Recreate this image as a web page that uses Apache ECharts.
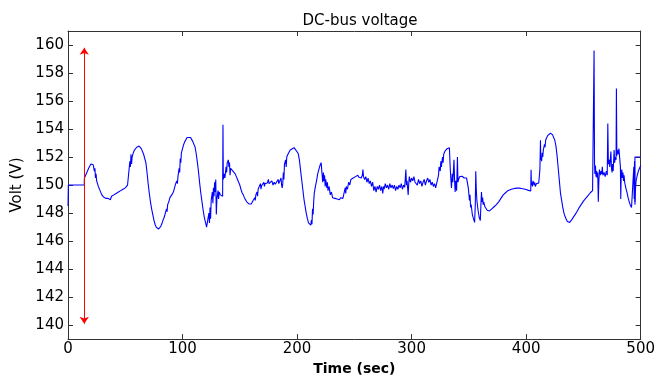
<!DOCTYPE html>
<html>
<head>
<meta charset="utf-8">
<script src="https://cdn.jsdelivr.net/npm/echarts@6/dist/echarts.min.js"></script>
<style>
  html, body { margin: 0; padding: 0; background: #fff; }
  #chart { width: 658px; height: 381px; }
</style>
</head>
<body>
<div id="chart"></div>
<script>
// time (sec) and DC-bus voltage (V)
const timeSec = [
  0, 0.3, 14.2, 14.3, 16, 18, 20, 21, 22, 22.5, 23, 23.5, 24, 24.5, 25, 26, 26.5, 27, 28, 29, 29.5, 30, 31, 32, 33, 34, 35, 36, 37, 38, 39, 40,
  41, 42, 43, 44, 45, 46, 47, 48, 49, 50, 51, 52, 53, 53.5, 54, 54.5, 55, 55.5, 56, 57, 58, 60, 62, 64, 66, 68, 69, 70, 71, 72, 73, 74, 75,
  76, 77, 78, 79, 80, 81, 82, 83, 84, 84.5, 85, 86, 86.5, 87, 88, 89, 90, 91, 92, 93, 94, 95, 95.5, 96, 97, 97.5, 98, 98.5, 99, 100, 101,
  102, 104, 105.5, 107, 109, 111, 112, 113, 114, 115, 116, 117, 118, 119, 120, 121, 122, 122.5, 123, 123.5, 124, 124.5, 125, 126, 126.5,
  127, 127.5, 128, 128.5, 129, 129.5, 130, 131, 131.5, 132, 133, 134, 135, 135.3, 135.6, 136.5, 137, 138, 138.5, 139, 140, 140.5, 141,
  141.5, 142, 143, 144, 145, 146, 147, 148, 149, 150, 151, 152, 153, 154, 155, 156, 157, 158, 159, 160, 161, 162, 163, 163.5, 164, 165,
  165.5, 166, 167, 168, 168.5, 169, 170, 171, 171.5, 172, 173, 174, 175, 175.5, 176, 177, 178, 179, 180, 181, 182, 183, 183.5, 184, 185,
  186, 186.5, 187, 187.5, 188, 188.5, 189, 190, 190.5, 191, 192, 193, 194, 195, 197.4, 199, 201, 202, 203, 204, 205, 206, 207, 208, 209,
  210, 211, 212, 212.5, 213, 213.5, 214, 214.5, 215, 216, 217, 218, 219, 220, 221, 222, 222.4, 223, 223.5, 224, 224.5, 225, 226, 226.5,
  227, 228, 229, 230, 231, 232, 233, 234, 235, 236, 237, 238, 239, 240, 241, 242, 242.5, 243, 244, 245, 246, 247, 248, 249, 250, 251,
  252, 253, 254, 255, 256, 257, 257.5, 258, 259, 260, 261, 262, 263, 264, 265, 266, 267, 268, 269, 270, 271, 272, 273, 274, 274.8, 275.5,
  276, 277, 278, 279, 280, 281, 282, 283, 284, 285, 286, 287, 288, 289, 290, 291, 292, 293, 294, 295, 295.5, 296, 297, 297.5, 298, 299,
  300, 301, 302, 303, 304, 305, 306, 307, 308, 309, 310, 311, 312, 313, 314, 315, 316, 317, 318, 319, 320, 321, 322, 322.6, 323.5, 324,
  325, 325.5, 326, 327, 327.5, 328, 329, 330, 331, 332, 333, 333.6, 334.2, 334.8, 335.5, 336, 337, 337.5, 338, 338.6, 339.3, 340, 340.5,
  341, 342, 343, 344, 345, 346, 347, 348, 348.7, 349.5, 350.5, 351, 351.5, 352, 353, 354, 355, 355.6, 356, 356.5, 357, 357.5, 358, 359,
  360, 360.5, 361, 361.5, 362, 362.5, 363, 364, 365, 366, 367, 368, 369, 370, 372, 374, 376, 378, 380, 382, 384, 386, 388, 390, 392, 394,
  396, 398, 400, 402, 404, 404.3, 404.6, 405, 405.5, 406, 407, 407.5, 408, 409, 410, 411, 412, 412.5, 412.8, 413, 413.5, 414, 414.5, 415,
  416, 416.5, 417, 418, 419, 420, 421.2, 422, 423, 424, 425, 426, 427, 428, 429, 430, 431, 432, 433, 434, 435, 436, 437, 438, 439, 440,
  442, 444, 446, 448, 450, 452, 454, 456, 458, 458.8, 459.3, 459.7, 460, 460.5, 461, 461.5, 462, 462.5, 463, 463.5, 464, 465, 465.5, 466,
  466.5, 467, 468, 469, 469.6, 470, 470.8, 471.3, 471.8, 472.5, 473, 474, 474.5, 475, 475.5, 476, 476.8, 477.3, 477.8, 478.5, 478.8,
  479.2, 479.7, 480.5, 481, 481.7, 482.3, 482.6, 483, 483.5, 484, 484.5, 485, 485.5, 486, 487, 488, 489, 490, 491, 492, 493, 493.6, 494,
  494.3, 494.6, 495, 495.5, 496, 497, 498, 499, 500
];
const voltage = [
  148.5, 150.0, 150.0, 150.5, 150.8, 151.2, 151.5, 151.6, 151.45, 151.5, 151.0, 151.2, 150.5, 150.8, 150.3, 150.2, 149.9, 150.0, 149.6, 149.5, 149.3, 149.4, 149.15, 149.2, 149.05, 149.15, 149.05, 149.1, 148.95, 149.2, 149.1, 149.3,
  149.2, 149.4, 149.35, 149.5, 149.45, 149.6, 149.55, 149.7, 149.65, 149.8, 149.7, 150.0, 149.9, 150.0, 151.7, 151.3, 152.2, 151.5, 152.0, 152.3, 152.5, 152.7, 152.78, 152.6, 152.2, 151.6, 150.9, 150.1, 149.4, 148.8, 148.3, 147.9, 147.5,
  147.2, 147.0, 146.92, 146.86, 146.9, 147.05, 147.25, 147.5, 147.7, 147.6, 148.0, 148.3, 148.1, 148.6, 148.8, 149.1, 149.0, 149.35, 149.5, 149.8, 150.1, 150.3, 150.1, 150.6, 151.2, 150.9, 151.9, 151.6, 152.3, 152.6, 152.9,
  153.1, 153.4, 153.48, 153.4, 153.1, 152.7, 152.2, 151.6, 150.9, 150.1, 149.4, 148.8, 148.2, 147.7, 147.35, 147.0, 146.9, 146.86, 148.0, 147.3, 148.4, 147.6, 148.9, 149.5, 148.7,
  149.8, 149.2, 150.2, 149.5, 150.4, 147.9, 149.0, 149.6, 149.0, 149.5, 149.3, 149.2, 149.2, 154.3, 150.4, 150.8, 150.5, 151.3, 150.9, 151.6, 151.8, 151.3, 151.6,
  150.7, 151.2, 151.3, 151.0, 151.1, 150.8, 150.6, 150.4, 150.2, 150.0, 149.7, 149.45, 149.3, 149.1, 148.95, 148.8, 148.75, 148.65, 148.7, 148.65, 148.8, 148.95, 149.1, 148.9, 149.3, 149.5,
  149.2, 149.7, 149.8, 150.1, 149.7, 149.95, 149.9, 150.2, 149.9, 150.1, 150.0, 150.15, 150.4, 150.1, 150.2, 150.1, 150.3, 150.0, 150.2, 150.05, 150.2, 150.1, 150.4, 150.1, 150.2,
  150.5, 150.0, 149.8, 150.1, 150.9, 150.4, 151.5, 151.8, 151.3, 152.0, 152.2, 152.3, 152.5, 152.6, 152.67, 152.55, 152.25, 151.8, 151.1, 150.4, 149.7, 149.0, 148.5, 148.0, 147.6,
  147.3, 147.2, 147.14, 147.5, 147.2, 148.3, 147.9, 148.8, 149.4, 149.9, 150.3, 150.8, 151.1, 151.4, 151.6, 151.67, 150.2, 150.9, 150.3, 150.7, 149.9, 150.4, 149.8, 150.2,
  149.6, 149.9, 149.3, 149.5, 149.1, 149.2, 149.05, 149.15, 149.0, 149.1, 148.95, 149.1, 149.0, 149.05, 148.95, 149.8, 149.4, 149.9, 149.7, 150.2, 150.0, 150.4, 150.3, 150.5, 150.45, 150.6,
  150.5, 150.7, 150.55, 150.65, 150.5, 150.7, 151.1, 150.6, 150.4, 150.6, 150.2, 150.5, 150.1, 150.3, 149.9, 150.2, 149.6, 149.9, 149.5, 149.9, 149.7, 150.0, 149.6, 149.9, 149.4, 149.9,
  149.7, 150.1, 149.8, 150.0, 149.7, 150.1, 149.8, 150.0, 149.75, 150.0, 149.6, 149.9, 149.7, 150.0, 149.8, 150.1, 149.7, 150.0, 149.85, 151.1, 150.0, 150.3, 149.3, 150.1, 150.6, 150.2,
  150.5, 150.3, 150.6, 150.2, 150.3, 150.0, 150.4, 150.1, 150.3, 149.9, 150.2, 150.4, 150.0, 150.3, 150.5, 150.2, 150.4, 150.0, 150.2, 149.9, 150.1, 149.8, 149.9, 149.75, 150.7, 151.3,
  151.0, 151.7, 151.3, 152.0, 151.6, 152.2, 152.4, 152.5, 152.6, 152.67, 152.67, 151.4, 150.5, 149.8, 150.8, 150.2, 151.8, 150.4, 149.5, 150.3, 149.6, 152.0, 150.2,
  150.4, 150.6, 150.5, 150.63, 150.6, 150.5, 150.55, 150.5, 150.45, 149.8, 148.9, 149.3, 148.4, 148.6, 147.9, 147.6, 147.33, 148.6, 150.98, 149.6, 148.9, 148.8, 148.2, 147.7,
  147.47, 148.6, 149.5, 148.8, 149.1, 148.6, 148.8, 148.45, 148.35, 148.2, 148.12, 148.15, 148.2, 148.3, 148.45, 148.6, 148.8, 149.05, 149.3, 149.45, 149.6, 149.67, 149.72, 149.76, 149.78, 149.78,
  149.75, 149.72, 149.68, 149.62, 149.58, 151.1, 150.0, 150.2, 149.9, 150.3, 150.0, 150.2, 149.9, 150.1, 150.1, 150.15, 151.1, 153.2, 151.8, 152.0, 151.7, 152.3, 152.0, 152.5,
  152.9, 152.7, 153.2, 153.4, 153.55, 153.65, 153.7, 153.68, 153.6, 153.5, 153.2, 152.8, 152.1, 151.2, 150.3, 149.4, 148.9, 148.4, 148.0, 147.75, 147.55, 147.4, 147.35, 147.33, 147.4, 147.55,
  147.8, 148.05, 148.35, 148.6, 148.85, 149.05, 149.25, 149.45, 149.6, 149.7, 159.6, 151.5, 150.8, 151.4, 150.6, 151.0, 150.5, 150.9, 148.8, 150.3, 151.1, 150.7, 151.0, 150.8,
  151.3, 150.7, 150.9, 150.6, 150.5, 151.0, 150.7, 154.4, 151.5, 151.8, 151.3, 152.4, 151.2, 150.9, 151.5, 151.0, 152.5, 151.6, 152.0, 151.8, 156.9,
  152.1, 152.5, 152.2, 152.6, 152.7, 151.3, 149.0, 150.8, 151.1, 150.5, 150.9, 150.3, 150.7, 150.2, 149.8, 149.5, 149.1, 148.8, 148.55, 148.4, 148.3, 148.3, 151.3,
  149.0, 151.7, 148.8, 149.8, 150.3, 150.7, 151.0, 151.2, 151.4
];
// short step drawn at the right end of the trace
const tailTime = [495, 495, 500];
const tailVolt = [148.6, 152.0, 152.0];
// red double arrow marking the 140..160 V span
const arrowTime = 14.2;
const arrowVolt = [140.1, 159.8];

const yTicks = [140, 142, 144, 146, 148, 150, 152, 154, 156, 158, 160];

const chart = echarts.init(document.getElementById('chart'));

const axisColor = '#333';
const labelFont = { fontFamily: 'DejaVu Sans', fontSize: 15, color: '#000' };

function xAxisOpt(pos, showLabel) {
  return {
    type: 'value',
    position: pos,
    min: 0,
    max: 500,
    interval: 100,
    name: showLabel ? 'Time (sec)' : '',
    nameLocation: 'middle',
    nameGap: 22,
    nameTextStyle: { fontFamily: 'DejaVu Sans', fontSize: 14, fontWeight: 'bold', color: '#000' },
    axisLine: { show: true, onZero: false, lineStyle: { color: axisColor, width: 1 } },
    axisTick: { show: true, inside: true, length: 5, lineStyle: { color: axisColor } },
    axisLabel: Object.assign({ show: showLabel, margin: 3 }, labelFont),
    splitLine: { show: false }
  };
}

function yAxisOpt(pos, showLabel) {
  return {
    type: 'value',
    position: pos,
    min: 139,
    max: 161,
    name: showLabel ? 'Volt (V)' : '',
    nameLocation: 'middle',
    nameGap: 32,
    nameTextStyle: { fontFamily: 'DejaVu Sans', fontSize: 15, color: '#000' },
    axisLine: { show: true, onZero: false, lineStyle: { color: axisColor, width: 1 } },
    axisTick: { show: true, inside: true, length: 5, customValues: yTicks, lineStyle: { color: axisColor } },
    axisLabel: Object.assign({ show: showLabel, margin: 4, customValues: yTicks }, labelFont),
    splitLine: { show: false }
  };
}

const option = {
  backgroundColor: '#fff',
  animation: false,
  title: {
    text: 'DC-bus voltage',
    left: 355,
    textAlign: 'center',
    top: 9,
    textStyle: { fontFamily: 'DejaVu Sans', fontSize: 15, fontWeight: 'normal', color: '#000' }
  },
  grid: { left: 68, right: 15, top: 31, bottom: 34 },
  xAxis: [xAxisOpt('bottom', true), xAxisOpt('top', false)],
  yAxis: [yAxisOpt('left', true), yAxisOpt('right', false)],
  series: [
    {
      type: 'line',
      data: timeSec.map((t, i) => [t, voltage[i]]),
      showSymbol: false,
      lineStyle: { color: '#0000ff', width: 1.1 },
      markLine: {
        silent: true,
        symbol: ['arrow', 'arrow'],
        symbolSize: [7, 7],
        label: { show: false },
        lineStyle: { color: '#ff0000', width: 1, type: 'solid' },
        data: [[{ coord: [arrowTime, arrowVolt[0]] }, { coord: [arrowTime, arrowVolt[1]] }]]
      }
    },
    {
      type: 'line',
      data: tailTime.map((t, i) => [t, tailVolt[i]]),
      showSymbol: false,
      lineStyle: { color: '#0000ff', width: 1.1 }
    }
  ]
};

chart.setOption(option);
</script>
</body>
</html>
